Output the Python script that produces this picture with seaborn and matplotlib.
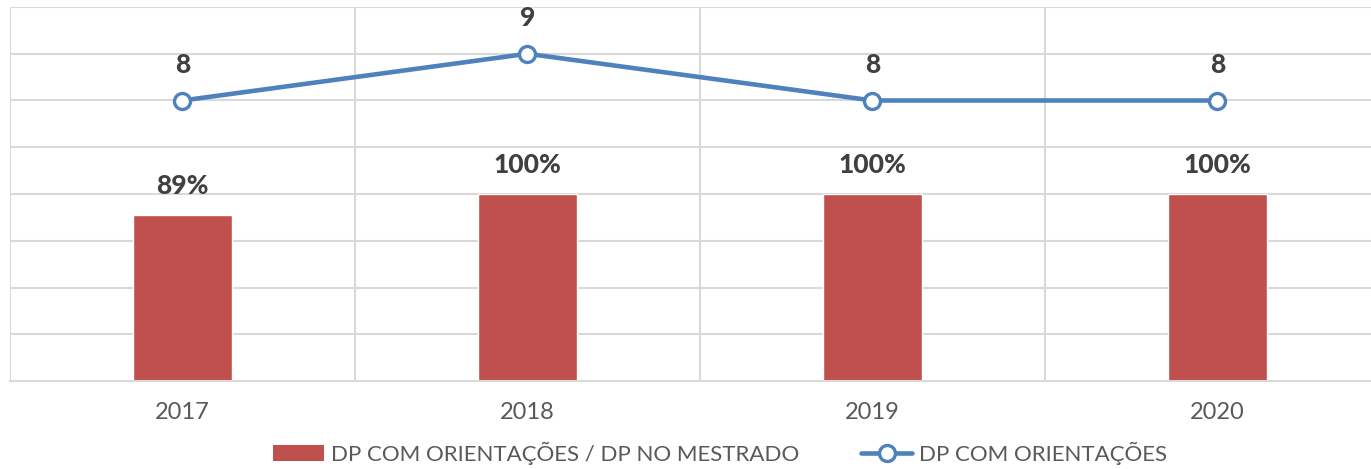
import matplotlib
matplotlib.use("Agg")
import matplotlib.pyplot as plt
import matplotlib.ticker as mticker
from matplotlib.patches import Patch
from matplotlib.lines import Line2D
import pandas as pd
import seaborn as sns

# data
anos = ["2017", "2018", "2019", "2020"]
razao = [0.89, 1.00, 1.00, 1.00]        # DP com orientações / DP no mestrado
orientacoes = [8, 9, 8, 8]               # DP com orientações

BAR_COLOR = "#C0504D"
LINE_COLOR = "#4F81BD"
GRID_COLOR = "#D9D9D9"
TEXT_COLOR = "#404040"
TICK_COLOR = "#595959"

sns.set_style("white")
plt.rcParams["font.family"] = ["Lato", "DejaVu Sans"]

df = pd.DataFrame({"ano": anos, "razao": razao, "orientacoes": orientacoes})

fig = plt.figure(figsize=(13.71, 4.69), dpi=100)
ax = fig.add_axes([10 / 1371, 88 / 469, 1380 / 1371, 374 / 469])

sns.barplot(data=df, x="ano", y="razao", color=BAR_COLOR, width=0.287,
            saturation=1, ax=ax, zorder=2)

ax.set_ylim(0, 2.0)
ax.yaxis.set_major_locator(mticker.MultipleLocator(0.25))
ax.set_xlim(-0.5, 3.5)
ax.xaxis.set_minor_locator(mticker.FixedLocator([-0.5, 0.5, 1.5, 2.5, 3.5]))
ax.grid(axis="y", which="major", color=GRID_COLOR, linewidth=1.5, zorder=0)
ax.grid(axis="x", which="minor", color=GRID_COLOR, linewidth=1.5, zorder=0)
ax.set_axisbelow(True)
ax.set_yticklabels([])
ax.tick_params(axis="y", length=0)
ax.tick_params(axis="x", which="major", length=0, pad=15, labelsize=17,
               labelcolor=TICK_COLOR)
ax.tick_params(axis="x", which="minor", length=5, width=1.5, color=GRID_COLOR)
ax.set_xlabel("")
ax.set_ylabel("")
for s in ["top", "right", "left"]:
    ax.spines[s].set_visible(False)
ax.spines["bottom"].set_color(GRID_COLOR)
ax.spines["bottom"].set_linewidth(1.5)

for i, v in enumerate(razao):
    ax.annotate(f"{v:.0%}", (i, v), xytext=(0, 12), textcoords="offset points",
                ha="center", va="bottom", fontsize=19, fontweight="black",
                color=TEXT_COLOR)

ax2 = ax.twinx()
sns.pointplot(data=df, x="ano", y="orientacoes", color=LINE_COLOR, ax=ax2,
              markers="o", linestyles="-", linewidth=3.3,
              markersize=11.5, markerfacecolor="white",
              markeredgecolor=LINE_COLOR, markeredgewidth=2.4, zorder=3)
ax2.set_ylim(2, 10)
ax2.set_xlim(-0.5, 3.5)
ax2.set_yticks([])
ax2.set_ylabel("")
ax2.set_xlabel("")
for s in ax2.spines.values():
    s.set_visible(False)

for i, v in enumerate(orientacoes):
    ax2.annotate(f"{v}", (i, v), xytext=(0, 17), textcoords="offset points",
                 ha="center", va="bottom", fontsize=19, fontweight="black",
                 color=TEXT_COLOR)

handles = [
    Patch(facecolor=BAR_COLOR, edgecolor="none"),
    Line2D([], [], color=LINE_COLOR, linewidth=3.3, marker="o", markersize=11.5,
           markerfacecolor="white", markeredgecolor=LINE_COLOR,
           markeredgewidth=2.4),
]
labels = ["DP COM ORIENTAÇÕES / DP NO MESTRADO", "DP COM ORIENTAÇÕES"]
fig.legend(handles, labels, loc="center", bbox_to_anchor=(720 / 1371, 16 / 469),
           ncol=2, frameon=False, fontsize=16, handlelength=2.3,
           handleheight=0.75, handletextpad=0.3, columnspacing=2.8,
           labelcolor=TICK_COLOR)

fig.savefig("out.png", dpi=100)
